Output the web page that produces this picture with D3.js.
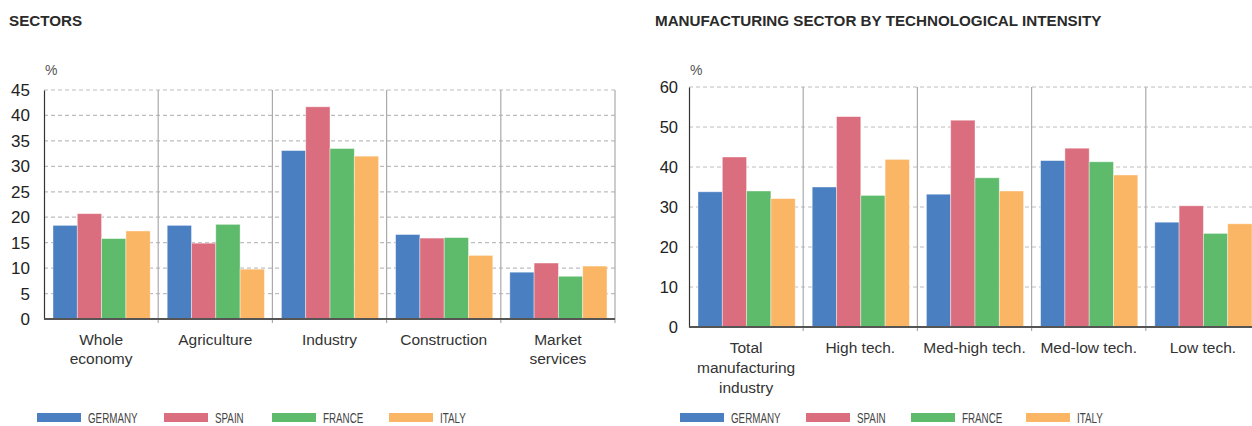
<!DOCTYPE html>
<html>
<head>
<meta charset="utf-8">
<script src="https://cdn.jsdelivr.net/npm/d3@7"></script>
<style>
  body { margin: 0; background: #fff; }
  svg { display: block; font-family: "Liberation Sans", Arial, sans-serif; }
</style>
</head>
<body>
<svg id="chart" width="1252" height="426"></svg>
<script>
// series names and colours
const countries = ['GERMANY', 'SPAIN', 'FRANCE', 'ITALY'];
const colors = ['#4a7fc1', '#db6e7e', '#5dbb6b', '#fbb665'];

// left panel: sectors
const sectorCats = [['Whole', 'economy'], ['Agriculture'], ['Industry'], ['Construction'], ['Market', 'services']];
const sectorGermany = [18.4, 18.4, 33.1, 16.6, 9.2];
const sectorSpain   = [20.7, 14.9, 41.7, 15.9, 11.0];
const sectorFrance  = [15.8, 18.6, 33.5, 16.0, 8.4];
const sectorItaly   = [17.3, 9.8, 32.0, 12.5, 10.4];
const sectorTicks = [0, 5, 10, 15, 20, 25, 30, 35, 40, 45];

// right panel: manufacturing by technological intensity
const techCats = [['Total', 'manufacturing', 'industry'], ['High tech.'], ['Med-high tech.'], ['Med-low tech.'], ['Low tech.']];
const techGermany = [33.8, 35.0, 33.2, 41.6, 26.2];
const techSpain   = [42.5, 52.6, 51.7, 44.7, 30.3];
const techFrance  = [34.0, 32.9, 37.3, 41.3, 23.4];
const techItaly   = [32.1, 41.9, 34.0, 38.0, 25.8];
const techTicks = [0, 10, 20, 30, 40, 50, 60];

const svg = d3.select('#chart');

function drawPanel(p) {
    const g = svg.append('g');
    const series = p.series;

    const x0 = d3.scaleBand().domain(d3.range(p.cats.length)).range([p.left, p.right]).padding(0);
    const x1 = d3.scaleBand().domain(d3.range(series.length)).range([9, x0.bandwidth() - 8]).padding(0);
    const y = d3.scaleLinear().domain([0, d3.max(p.ticks)]).range([p.bottom, p.top]);

    // title
    g.append('text')
        .attr('x', p.titleX).attr('y', 26)
        .attr('font-size', 15.2).attr('font-weight', 'bold').attr('fill', '#2a2a2a')
        .text(p.title);

    g.append('text')
        .attr('x', p.left + 1).attr('y', 75)
        .attr('font-size', 14).attr('fill', '#555')
        .text('%');

    // dashed grid
    g.append('g').selectAll('line')
        .data(p.ticks.filter(t => t > 0))
        .enter().append('line')
        .attr('x1', p.left).attr('x2', p.right)
        .attr('y1', d => y(d)).attr('y2', d => y(d))
        .attr('stroke', '#bdbdbd').attr('stroke-width', 1.2)
        .attr('stroke-dasharray', '4,3');

    // category separators
    g.append('g').selectAll('line')
        .data(d3.range(1, p.cats.length + 1))
        .enter().append('line')
        .attr('x1', d => x0(d - 1) + x0.bandwidth()).attr('x2', d => x0(d - 1) + x0.bandwidth())
        .attr('y1', p.top).attr('y2', p.bottom + 4)
        .attr('stroke', '#aaa').attr('stroke-width', 1.2);

    // bars
    const grp = g.append('g').selectAll('g')
        .data(p.cats.map((c, i) => series.map(s => s[i])))
        .enter().append('g')
        .attr('transform', (d, i) => 'translate(' + x0(i) + ',0)');

    grp.selectAll('rect')
        .data(d => d)
        .enter().append('rect')
        .attr('x', (d, j) => x1(j))
        .attr('width', x1.bandwidth())
        .attr('y', d => y(d))
        .attr('height', d => p.bottom - y(d))
        .attr('fill', (d, j) => colors[j])
        .attr('stroke', '#fff').attr('stroke-opacity', 0.5).attr('stroke-width', 0.8);

    // y axis
    const yAxis = g.append('g')
        .attr('transform', 'translate(' + p.left + ',0)')
        .call(d3.axisLeft(y).tickValues(p.ticks).tickSize(0).tickPadding(p.tickPad));
    yAxis.select('.domain').attr('stroke', '#333').attr('stroke-width', 1.2);
    yAxis.selectAll('text').attr('font-size', p.tickSize).attr('fill', '#222')
        .attr('font-family', '"Liberation Sans", Arial, sans-serif');

    // baseline
    g.append('line')
        .attr('x1', p.left).attr('x2', p.right)
        .attr('y1', p.bottom).attr('y2', p.bottom)
        .attr('stroke', '#555').attr('stroke-width', 2);

    // category labels
    const lab = g.append('g').selectAll('text')
        .data(p.cats)
        .enter().append('text')
        .attr('text-anchor', 'middle')
        .attr('font-size', 15.5).attr('fill', '#333')
        .attr('x', (d, i) => x0(i) + x0.bandwidth() / 2)
        .attr('y', p.bottom + 26);
    lab.selectAll('tspan')
        .data(d => d)
        .enter().append('tspan')
        .attr('x', function() { return d3.select(this.parentNode).attr('x'); })
        .attr('dy', (d, k) => k === 0 ? 0 : p.lineH)
        .text(d => d);

    // legend (condensed look: squeeze the text horizontally)
    const leg = g.append('g').selectAll('g')
        .data(countries)
        .enter().append('g')
        .attr('transform', (d, i) => 'translate(' + p.legendX[i] + ',' + p.legendY + ')');
    leg.append('rect')
        .attr('width', 44).attr('height', 9)
        .attr('fill', (d, i) => colors[i]);
    leg.append('text')
        .attr('x', 51).attr('y', 10)
        .attr('font-size', 14).attr('fill', '#444')
        .text(d => d)
        .each(function() {
            const w = this.getComputedTextLength();
            d3.select(this).attr('textLength', w * 0.7).attr('lengthAdjust', 'spacingAndGlyphs');
        });
}

drawPanel({
    title: 'SECTORS', titleX: 9,
    cats: sectorCats,
    series: [sectorGermany, sectorSpain, sectorFrance, sectorItaly],
    ticks: sectorTicks,
    left: 44, right: 615, top: 90, bottom: 319,
    tickPad: 14, tickSize: 17, lineH: 19,
    legendX: [37, 164, 272, 389], legendY: 413
});

drawPanel({
    title: 'MANUFACTURING SECTOR BY TECHNOLOGICAL INTENSITY', titleX: 655,
    cats: techCats,
    series: [techGermany, techSpain, techFrance, techItaly],
    ticks: techTicks,
    left: 689, right: 1260, top: 87, bottom: 327,
    tickPad: 11, tickSize: 16.5, lineH: 20,
    legendX: [680, 806, 911, 1026], legendY: 413
});
</script>
</body>
</html>
